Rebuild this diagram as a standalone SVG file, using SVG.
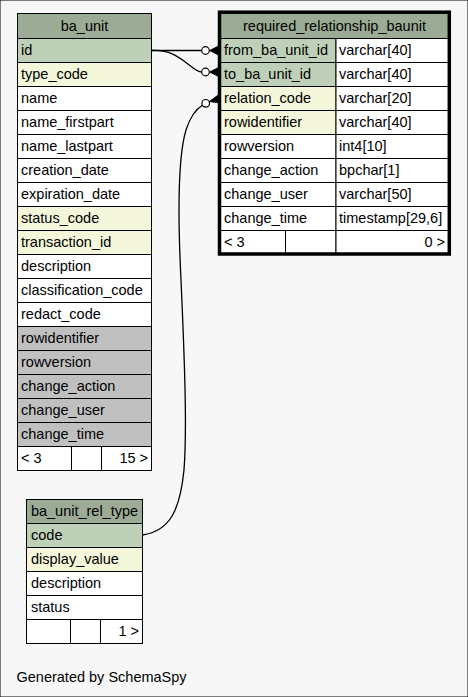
<svg xmlns="http://www.w3.org/2000/svg" width="468" height="697" viewBox="0 0 468 697">
<style>
text{font-family:"Liberation Sans",Arial,sans-serif;font-size:14.5px;fill:#000}
.c{text-anchor:middle}
.r{text-anchor:end}
rect{stroke:#000;stroke-width:1}
.h{fill:#9bab96}
.pk{fill:#bed1b8}
.ix{fill:#f4f7da}
.w{fill:#fff}
.g{fill:#c0c0c0}
.bd{fill:none;stroke:#000;stroke-width:3.5}
.ln{fill:none;stroke:#000;stroke-width:1.3}
.od{fill:#fff;stroke:#000;stroke-width:1.2}
.cr{fill:#000;stroke:#000;stroke-width:0.8}
</style>
<rect x="0" y="0" width="468" height="697" fill="#f7f7f7" stroke="none"/>

<g id="connectors">
<path class="ln" d="M152,50.5 L201.7,50.5"/>
<circle class="od" cx="205.5" cy="50.5" r="3.8"/>
<path class="cr" d="M209.5,50.5 L218,46.2 L218,54.8 Z"/>
<path class="ln" d="M152,50.5 C170,49.5 180,58 188,64 C193,68 197,72 201.7,72"/>
<circle class="od" cx="205.5" cy="72" r="3.8"/>
<path class="cr" d="M209.5,72 L218,67.7 L218,76.3 Z"/>
<path class="ln" d="M142.5,535 C170,531 180,510 184,470 C187,430 185,370 181,280 C178,220 177,160 186,130 C190,118 196,109 202.5,105.3"/>
<circle class="od" cx="205.7" cy="103.3" r="3.8"/>
<path class="cr" d="M209.2,101.6 L218.5,94.8 L218.5,102.8 Z"/>
</g>

<g id="ba_unit">
<rect class="h" x="17.5" y="13.5" width="134" height="25"/>
<text class="c" x="84.5" y="31">ba_unit</text>
<rect class="pk" x="17.5" y="38.5" width="134" height="24"/><text x="21" y="55">id</text>
<rect class="ix" x="17.5" y="62.5" width="134" height="24"/><text x="21" y="79">type_code</text>
<rect class="w" x="17.5" y="86.5" width="134" height="24"/><text x="21" y="103">name</text>
<rect class="w" x="17.5" y="110.5" width="134" height="24"/><text x="21" y="127">name_firstpart</text>
<rect class="w" x="17.5" y="134.5" width="134" height="24"/><text x="21" y="151">name_lastpart</text>
<rect class="w" x="17.5" y="158.5" width="134" height="24"/><text x="21" y="175">creation_date</text>
<rect class="w" x="17.5" y="182.5" width="134" height="24"/><text x="21" y="199">expiration_date</text>
<rect class="ix" x="17.5" y="206.5" width="134" height="24"/><text x="21" y="223">status_code</text>
<rect class="ix" x="17.5" y="230.5" width="134" height="24"/><text x="21" y="247">transaction_id</text>
<rect class="w" x="17.5" y="254.5" width="134" height="24"/><text x="21" y="271">description</text>
<rect class="w" x="17.5" y="278.5" width="134" height="24"/><text x="21" y="295">classification_code</text>
<rect class="w" x="17.5" y="302.5" width="134" height="24"/><text x="21" y="319">redact_code</text>
<rect class="g" x="17.5" y="326.5" width="134" height="24"/><text x="21" y="343">rowidentifier</text>
<rect class="g" x="17.5" y="350.5" width="134" height="24"/><text x="21" y="367">rowversion</text>
<rect class="g" x="17.5" y="374.5" width="134" height="24"/><text x="21" y="391">change_action</text>
<rect class="g" x="17.5" y="398.5" width="134" height="24"/><text x="21" y="415">change_user</text>
<rect class="g" x="17.5" y="422.5" width="134" height="24"/><text x="21" y="439">change_time</text>
<rect class="w" x="17.5" y="446.5" width="54" height="24"/>
<rect class="w" x="71.5" y="446.5" width="30" height="24"/>
<rect class="w" x="101.5" y="446.5" width="50" height="24"/>
<text x="21" y="463">&lt; 3</text>
<text class="r" x="148" y="463">15 &gt;</text>
</g>

<g id="required_relationship_baunit">
<rect class="h" x="219.5" y="12.5" width="230" height="26"/>
<text class="c" x="334.5" y="31">required_relationship_baunit</text>
<rect class="pk" x="219.5" y="38.5" width="116.5" height="24"/><rect class="w" x="336" y="38.5" width="113.5" height="24"/>
<text x="224" y="55">from_ba_unit_id</text><text x="339" y="55">varchar[40]</text>
<rect class="pk" x="219.5" y="62.5" width="116.5" height="24"/><rect class="w" x="336" y="62.5" width="113.5" height="24"/>
<text x="224" y="79">to_ba_unit_id</text><text x="339" y="79">varchar[40]</text>
<rect class="ix" x="219.5" y="86.5" width="116.5" height="24"/><rect class="w" x="336" y="86.5" width="113.5" height="24"/>
<text x="224" y="103">relation_code</text><text x="339" y="103">varchar[20]</text>
<rect class="ix" x="219.5" y="110.5" width="116.5" height="24"/><rect class="w" x="336" y="110.5" width="113.5" height="24"/>
<text x="224" y="127">rowidentifier</text><text x="339" y="127">varchar[40]</text>
<rect class="w" x="219.5" y="134.5" width="116.5" height="24"/><rect class="w" x="336" y="134.5" width="113.5" height="24"/>
<text x="224" y="151">rowversion</text><text x="339" y="151">int4[10]</text>
<rect class="w" x="219.5" y="158.5" width="116.5" height="24"/><rect class="w" x="336" y="158.5" width="113.5" height="24"/>
<text x="224" y="175">change_action</text><text x="339" y="175">bpchar[1]</text>
<rect class="w" x="219.5" y="182.5" width="116.5" height="24"/><rect class="w" x="336" y="182.5" width="113.5" height="24"/>
<text x="224" y="199">change_user</text><text x="339" y="199">varchar[50]</text>
<rect class="w" x="219.5" y="206.5" width="116.5" height="24"/><rect class="w" x="336" y="206.5" width="113.5" height="24"/>
<text x="224" y="223">change_time</text><text x="339" y="223">timestamp[29,6]</text>
<rect class="w" x="219.5" y="230.5" width="66" height="24"/>
<rect class="w" x="285.5" y="230.5" width="50.5" height="24"/>
<rect class="w" x="336" y="230.5" width="113.5" height="24"/>
<text x="224" y="247">&lt; 3</text>
<text class="r" x="445" y="247">0 &gt;</text>
<rect class="bd" x="219.5" y="12.2" width="229.8" height="241.8"/>
</g>

<g id="ba_unit_rel_type">
<rect class="h" x="26.5" y="499.5" width="116" height="24"/>
<text class="c" x="84.5" y="516">ba_unit_rel_type</text>
<rect class="pk" x="26.5" y="523.5" width="116" height="24"/><text x="31" y="540">code</text>
<rect class="ix" x="26.5" y="547.5" width="116" height="24"/><text x="31" y="564">display_value</text>
<rect class="w" x="26.5" y="571.5" width="116" height="24"/><text x="31" y="588">description</text>
<rect class="w" x="26.5" y="595.5" width="116" height="24"/><text x="31" y="612">status</text>
<rect class="w" x="26.5" y="619.5" width="44" height="24"/>
<rect class="w" x="70.5" y="619.5" width="30" height="24"/>
<rect class="w" x="100.5" y="619.5" width="42" height="24"/>
<text class="r" x="139" y="636">1 &gt;</text>
</g>

<text x="16.5" y="682">Generated by SchemaSpy</text>
</svg>
